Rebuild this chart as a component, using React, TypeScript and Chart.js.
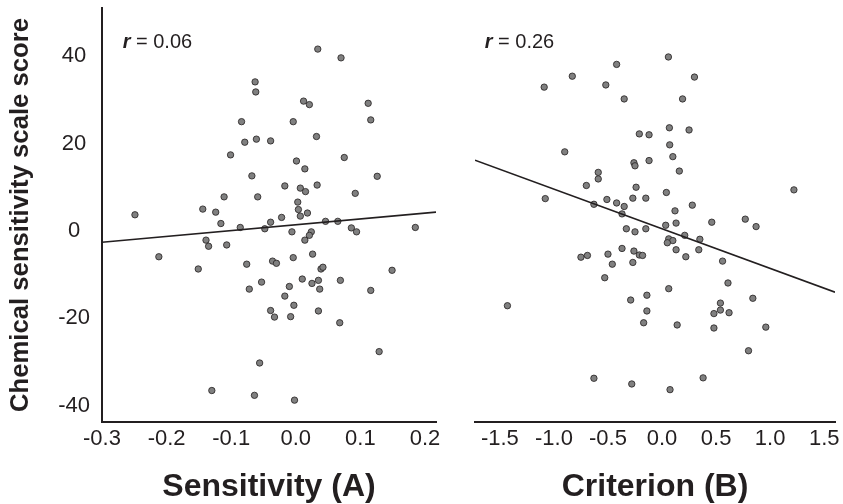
import React, { useEffect, useRef } from "react";
import { Chart, registerables } from "chart.js";

Chart.register(...registerables);

const FONT = "'Liberation Sans', Arial, Helvetica, sans-serif";
const INK = "#231f20";

// ---- Data ----
const sensitivityX = [
  0.034, 0.07, -0.063, -0.062, 0.012, 0.021, 0.112, 0.116, -0.084, -0.004,
  0.032, -0.079, -0.061, -0.039, -0.101, 0.075, 0.001, 0.014, -0.068, 0.126,
  -0.017, 0.033, 0.007, 0.015, 0.092, -0.111, -0.059, 0.003, -0.144, -0.124,
  0.004, 0.018, -0.249, 0.007, -0.022, -0.116, -0.039, 0.046, 0.065, -0.086,
  -0.048, -0.006, 0.024, 0.086, 0.094, 0.185, 0.021, -0.139, 0.014, -0.135,
  -0.107, 0.026, -0.212, -0.036, -0.03, -0.004, -0.076, -0.151, 0.039, 0.042,
  0.149, -0.053, 0.01, 0.025, 0.035, 0.069, -0.072, -0.01, 0.037, 0.116,
  -0.017, -0.003, -0.039, -0.033, -0.008, 0.035, 0.068, 0.129, -0.056, -0.13,
  -0.064, -0.002,
];
const sensitivityY = [
  41.6, 39.6, 34.1, 31.8, 29.7, 28.9, 29.2, 25.4, 25.0, 25.0,
  21.6, 20.3, 21.0, 20.6, 17.4, 16.8, 16.0, 14.2, 12.6, 12.5,
  10.3, 10.5, 9.8, 9.0, 8.6, 7.8, 7.8, 6.6, 5.0, 4.3,
  4.9, 4.1, 3.7, 3.4, 3.1, 1.7, 2.0, 2.2, 2.2, 0.8,
  0.5, -0.2, -0.2, 0.7, -0.2, 0.8, -1.0, -2.1, -2.1, -3.5,
  -3.2, -5.3, -5.9, -6.9, -7.4, -6.1, -7.6, -8.7, -8.7, -8.3,
  -9.0, -11.7, -11.0, -12.0, -11.3, -11.3, -13.3, -12.7, -13.3, -13.6,
  -14.9, -17.0, -18.2, -19.7, -19.6, -18.3, -21.0, -27.6, -30.2, -36.5,
  -37.6, -38.7,
];
const criterionX = [
  0.059, -0.42, -0.83, 0.3, -1.09, -0.52, -0.35, 0.19, 0.068, 0.25,
  -0.21, -0.12, 0.071, -0.9, 0.1, -0.26, -0.25, -0.12, 0.16, -0.59,
  -0.59, -0.7, 1.22, -0.24, 0.04, -1.08, -0.27, -0.15, -0.51, -0.42,
  -0.35, -0.63, -0.37, 0.28, 0.12, 0.13, 0.46, 0.77, 0.87, 0.034,
  -0.33, -0.25, -0.15, 0.21, 0.35, 0.062, 0.1, 0.049, -0.37, 0.13,
  0.34, -0.26, -0.21, -0.18, -0.5, -0.69, -0.75, 0.22, 0.56, -0.46,
  -0.27, -0.53, 0.61, 0.062, -0.14, -0.29, 0.84, -1.43, 0.54, 0.54,
  0.48, 0.62, -0.14, -0.17, 0.14, 0.48, 0.96, 0.8, -0.63, 0.38,
  -0.28, 0.074,
];
const criterionY = [
  39.8, 38.1, 35.4, 35.2, 32.9, 33.4, 30.2, 30.2, 23.6, 23.1,
  22.2, 22.0, 19.7, 18.1, 17.0, 15.6, 14.9, 16.1, 13.7, 13.4,
  11.9, 10.4, 9.4, 10.0, 8.8, 7.4, 7.5, 7.5, 7.2, 6.4,
  5.6, 6.1, 3.9, 5.9, 4.6, 1.8, 2.0, 2.7, 1.0, 1.3,
  0.5, -0.2, 0.5, -1.0, -1.9, -1.8, -2.2, -2.7, -4.0, -4.3,
  -4.3, -4.6, -5.5, -5.6, -5.3, -5.6, -6.0, -5.9, -6.9, -7.6,
  -7.2, -10.7, -11.9, -13.2, -14.7, -15.8, -15.4, -17.1, -16.5, -18.1,
  -18.9, -18.7, -18.3, -21.0, -21.5, -22.2, -22.0, -27.4, -33.7, -33.6,
  -35.0, -36.3,
];

// regression line end points
const sensitivityFitX = [-0.3, 0.217];
const sensitivityFitY = [-2.6, 4.3];
const criterionFitX = [-1.73, 1.6];
const criterionFitY = [16.2, -14.0];

// ticks & texts
const yTicks = [-40, -20, 0, 20, 40];
const sensitivityTicks = [-0.3, -0.2, -0.1, 0, 0.1, 0.2];
const criterionTicks = [-1.5, -1.0, -0.5, 0, 0.5, 1.0, 1.5];
const yTitle = "Chemical sensitivity scale score";
const xTitles = ["Sensitivity (A)", "Criterion (B)"];
const rValues = ["0.06", "0.26"];

const Y_MIN = -43.7;
const Y_MAX = 51;

const rLabelPlugin = {
  id: "rLabel",
  afterDatasetsDraw(chart: any, _args: any, opts: any) {
    const { ctx, scales } = chart;
    const x = scales.x.getPixelForValue(opts.x);
    const y = scales.y.getPixelForValue(opts.y);
    ctx.save();
    ctx.fillStyle = INK;
    ctx.textBaseline = "middle";
    ctx.textAlign = "left";
    ctx.font = `italic bold 20px ${FONT}`;
    ctx.fillText("r", x, y);
    const w = ctx.measureText("r").width;
    ctx.font = `20px ${FONT}`;
    ctx.fillText(" = " + opts.value, x + w, y);
    ctx.restore();
  },
};

function zeroPad(s: any) {
  s.paddingLeft = 0;
  s.paddingRight = 0;
  s.paddingTop = 0;
  s.paddingBottom = 0;
}

function makeConfig(p: {
  xs: number[];
  ys: number[];
  fitX: number[];
  fitY: number[];
  xMin: number;
  xMax: number;
  xTicks: number[];
  xTitle: string;
  showY: boolean;
  padding: any;
  rValue: string;
  rX: number;
}): any {
  return {
    type: "scatter",
    data: {
      datasets: [
        {
          type: "line",
          data: p.fitX.map((x, i) => ({ x, y: p.fitY[i] })),
          borderColor: INK,
          borderWidth: 1.6,
          pointRadius: 0,
          fill: false,
          order: 0,
        },
        {
          data: p.xs.map((x, i) => ({ x, y: p.ys[i] })),
          backgroundColor: "#808080",
          borderColor: INK,
          borderWidth: 0.8,
          pointRadius: 3.2,
          order: 1,
        },
      ],
    },
    options: {
      animation: false,
      responsive: false,
      maintainAspectRatio: false,
      devicePixelRatio: 1,
      layout: { padding: p.padding },
      plugins: {
        legend: { display: false },
        tooltip: { enabled: false },
        rLabel: { x: p.rX, y: 43, value: p.rValue },
      },
      scales: {
        x: {
          type: "linear",
          position: "bottom",
          min: p.xMin,
          max: p.xMax,
          afterBuildTicks: (s: any) => {
            s.ticks = p.xTicks.map((v) => ({ value: v }));
          },
          afterFit: (s: any) => {
            s.height = 82;
            zeroPad(s);
          },
          grid: { display: false, drawTicks: false },
          border: { display: true, color: INK, width: 2 },
          ticks: {
            color: INK,
            padding: 4,
            maxRotation: 0,
            autoSkip: false,
            font: { family: FONT, size: 22 },
            callback: (v: any) => Number(v).toFixed(1),
          },
          title: {
            display: true,
            text: p.xTitle,
            color: INK,
            padding: { top: 0, bottom: 1 },
            font: { family: FONT, size: 32, weight: "bold", lineHeight: 1 },
          },
        },
        y: {
          type: "linear",
          display: p.showY,
          min: Y_MIN,
          max: Y_MAX,
          afterBuildTicks: (s: any) => {
            s.ticks = yTicks.map((v) => ({ value: v }));
          },
          afterFit: (s: any) => {
            if (p.showY) s.width = 102;
            zeroPad(s);
          },
          grid: { display: false, drawTicks: false },
          border: { display: p.showY, color: INK, width: 2 },
          ticks: {
            color: INK,
            padding: 12,
            crossAlign: "center",
            autoSkip: false,
            font: { family: FONT, size: 22 },
            callback: (v: any) => String(v),
          },
          title: {
            display: p.showY,
            text: yTitle,
            color: INK,
            padding: { top: 5, bottom: 0 },
            font: { family: FONT, size: 25.7, weight: "bold", lineHeight: 1.2 },
          },
        },
      },
    },
    plugins: [rLabelPlugin],
  };
}

export default function App() {
  const leftRef = useRef<HTMLCanvasElement>(null);
  const rightRef = useRef<HTMLCanvasElement>(null);

  useEffect(() => {
    const left = new Chart(
      leftRef.current as HTMLCanvasElement,
      makeConfig({
        xs: sensitivityX,
        ys: sensitivityY,
        fitX: sensitivityFitX,
        fitY: sensitivityFitY,
        xMin: -0.3,
        xMax: 0.217,
        xTicks: sensitivityTicks,
        xTitle: xTitles[0],
        showY: true,
        padding: { left: 0, top: 8, right: 14, bottom: 0 },
        rValue: rValues[0],
        rX: -0.268,
      })
    );
    const right = new Chart(
      rightRef.current as HTMLCanvasElement,
      makeConfig({
        xs: criterionX,
        ys: criterionY,
        fitX: criterionFitX,
        fitY: criterionFitY,
        xMin: -1.73,
        xMax: 1.6,
        xTicks: criterionTicks,
        xTitle: xTitles[1],
        showY: false,
        padding: { left: 25, top: 8, right: 8, bottom: 0 },
        rValue: rValues[1],
        rX: -1.64,
      })
    );
    return () => {
      left.destroy();
      right.destroy();
    };
  }, []);

  return (
    <div
      style={{
        position: "fixed",
        left: 0,
        top: 0,
        width: 843,
        height: 504,
        background: "#ffffff",
      }}
    >
      <canvas
        ref={leftRef}
        width={450}
        height={504}
        style={{ position: "absolute", left: 0, top: 0, width: 450, height: 504 }}
      />
      <canvas
        ref={rightRef}
        width={393}
        height={504}
        style={{ position: "absolute", left: 450, top: 0, width: 393, height: 504 }}
      />
    </div>
  );
}
